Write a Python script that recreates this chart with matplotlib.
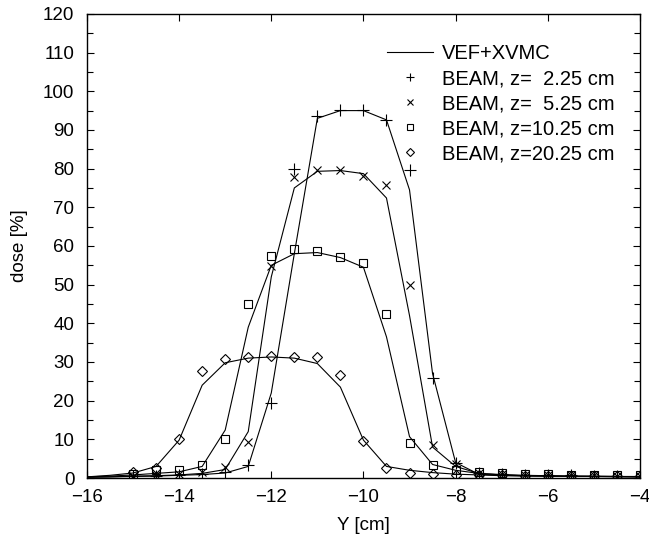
import numpy as np
import matplotlib
matplotlib.use('Agg')
import matplotlib.pyplot as plt
from matplotlib.legend_handler import HandlerLine2D

# --- Data ---
# BEAM points (markers), Y positions in cm
y_beam = [-15, -14.5, -14, -13.5, -13, -12.5, -12, -11.5, -11, -10.5, -10, -9.5,
          -9, -8.5, -8, -7.5, -7, -6.5, -6, -5.5, -5, -4.5, -4]
beam_z225 = [0.5, 0.6, 0.8, 1.0, 1.6, 3.4, 19.3, 79.9, 93.6, 95.2, 95.2, 92.6,
             79.6, 25.9, 3.8, 1.2, 1.0, 0.8, 0.8, 0.7, 0.6, 0.6, 0.5]
beam_z525 = [0.6, 0.8, 1.0, 1.5, 2.8, 9.4, 54.8, 77.9, 79.6, 79.6, 78.1, 75.8,
             49.9, 8.5, 3.5, 1.3, 1.1, 0.9, 0.9, 0.8, 0.7, 0.6, 0.6]
beam_z1025 = [1.0, 2.1, 2.2, 3.3, 10.0, 44.9, 57.4, 59.1, 58.8, 57.1, 55.5, 42.3,
              9.1, 3.3, 2.2, 1.5, 1.3, 1.1, 1.0, 0.9, 0.8, 0.7, 0.7]
beam_z2025 = [1.6, 2.6, 10.2, 27.7, 30.9, 31.2, 31.5, 31.2, 31.2, 26.6, 9.6, 2.5,
              1.4, 1.1, 0.9, 0.8, 0.7, 0.6, 0.6, 0.5, 0.5, 0.5, 0.5]

# VEF+XVMC curves
y_vef = [-16, -15.5, -15, -14.5, -14, -13.5, -13, -12.5, -12, -11.5, -11, -10.5,
         -10, -9.5, -9, -8.5, -8, -7.5, -7, -6.5, -6, -5.5, -5, -4.5, -4]
vef_z225 = [0.2, 0.3, 0.4, 0.5, 0.7, 0.9, 1.3, 3.0, 22, 58, 93, 95,
            95, 92.6, 74.5, 27, 4, 1.0, 0.7, 0.6, 0.5, 0.4, 0.4, 0.3, 0.3]
vef_z525 = [0.2, 0.3, 0.5, 0.6, 0.8, 1.2, 2.2, 12, 52, 75, 79.3, 79.5,
            78.7, 72.4, 42, 8, 3, 1.2, 0.8, 0.6, 0.5, 0.5, 0.4, 0.4, 0.3]
vef_z1025 = [0.3, 0.5, 0.8, 1.2, 1.6, 3.0, 12.4, 39, 55, 58, 58.3, 57,
             54.5, 36.5, 10.7, 3.5, 2.0, 1.2, 0.9, 0.7, 0.6, 0.5, 0.5, 0.4, 0.4]
vef_z2025 = [0.3, 0.7, 1.3, 3.0, 9.8, 24, 29.8, 31, 31.3, 31, 29.6, 23.5,
             9.8, 3.0, 2.0, 1.4, 1.0, 0.8, 0.6, 0.5, 0.5, 0.4, 0.4, 0.4, 0.3]

beam_labels = ['BEAM, z=  2.25 cm', 'BEAM, z=  5.25 cm',
               'BEAM, z=10.25 cm', 'BEAM, z=20.25 cm']

# --- Styling ---
plt.rcParams.update({
    'font.family': 'Liberation Sans',
    'font.size': 13.5,
    'axes.linewidth': 1.0,
})


class RightMarker(HandlerLine2D):
    # gnuplot-style key: marker sits at the right end of the sample
    def get_xdata(self, legend, xdescent, ydescent, width, height, fontsize):
        xd = np.array([-xdescent, -xdescent + width])
        return xd, np.array([-xdescent + width])


fig = plt.figure(figsize=(6.49, 5.35), dpi=100)
ax = fig.add_axes([0.134, 0.1065, 0.852, 0.8675])

lw = 0.8
for vals in [vef_z225, vef_z525, vef_z1025, vef_z2025]:
    ax.plot(y_vef, vals, color='black', lw=lw)
line_handle, = ax.plot([], [], color='black', lw=lw, label='VEF+XVMC')

marker_specs = [('+', 8, beam_z225), ('x', 6, beam_z525),
                ('s', 6, beam_z1025), ('D', 5.5, beam_z2025)]
handles = [line_handle]
for (mk, ms, vals), lbl in zip(marker_specs, beam_labels):
    h, = ax.plot(y_beam, vals, linestyle='none', marker=mk, ms=ms,
                 mfc='none', mec='black', mew=0.8, label=lbl)
    handles.append(h)

ax.set_xlim(-16, -4)
ax.set_ylim(0, 120)
ax.set_xticks(np.arange(-16, -3, 2))
ax.set_yticks(np.arange(0, 121, 10))
ax.set_yticks(np.arange(0, 121, 5), minor=True)
ax.tick_params(which='both', direction='in', top=True, right=True, labelsize=13.5)
ax.tick_params(which='major', length=5, width=0.8)
ax.tick_params(which='minor', length=4, width=0.8)
ax.tick_params(axis='x', pad=8)
ax.tick_params(axis='y', pad=9)

ax.set_xlabel('Y [cm]', fontsize=13.5, labelpad=8)
ax.set_ylabel('dose [%]', fontsize=13.5, labelpad=11)

hmap = {h: RightMarker() for h in handles[1:]}
leg = ax.legend(handles=handles, loc='upper left', bbox_to_anchor=(0.5425, 0.935),
                frameon=False, handlelength=2.3, handletextpad=0.45,
                labelspacing=0.3, borderpad=0, borderaxespad=0, handler_map=hmap,
                markerscale=0.7, fontsize=14.5)

fig.savefig('out.png', dpi=100)
